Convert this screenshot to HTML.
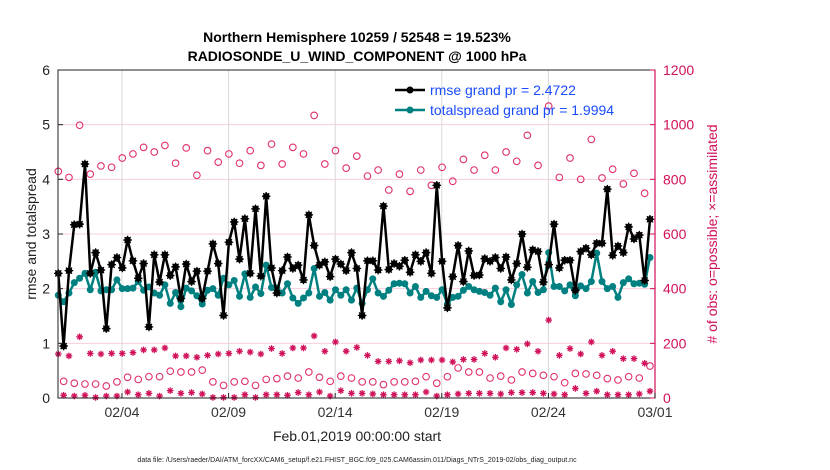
<!DOCTYPE html>
<html><head><meta charset="utf-8"><style>
html,body{margin:0;padding:0;background:#fff;}
svg{display:block;font-family:"Liberation Sans",Arial,sans-serif;}
</style></head><body>
<svg id="chart" width="830" height="470" viewBox="0 0 830 470">
<rect x="0" y="0" width="830" height="470" fill="#fff"/>
<text x="357" y="42" text-anchor="middle" font-size="14" font-weight="bold">Northern Hemisphere 10259 / 52548 = 19.523%</text>
<text x="357" y="61" text-anchor="middle" font-size="14" font-weight="bold">RADIOSONDE_U_WIND_COMPONENT @ 1000 hPa</text>
<g id="grid"></g>
<g id="marks"></g>
<rect x="58" y="70" width="597" height="328" fill="none" stroke="#222" stroke-width="1"/>
<line x1="655" y1="70" x2="655" y2="398" stroke="#d0105a" stroke-width="1.2"/>
<g id="axes"></g>
<text transform="translate(36,234) rotate(-90)" text-anchor="middle" font-size="14" fill="#222">rmse and totalspread</text>
<text transform="translate(717,234) rotate(-90)" text-anchor="middle" font-size="14" fill="#d0105a"># of obs: o=possible; ×=assimilated</text>
<text x="357" y="441" text-anchor="middle" font-size="14" fill="#222">Feb.01,2019 00:00:00 start</text>
<text x="357" y="462" text-anchor="middle" font-size="7" fill="#222">data file: /Users/raeder/DAI/ATM_forcXX/CAM6_setup/f.e21.FHIST_BGC.f09_025.CAM6assim.011/Diags_NTrS_2019-02/obs_diag_output.nc</text>
<g>
<line x1="395" y1="90" x2="425" y2="90" stroke="#000" stroke-width="2.5"/>
<circle cx="410" cy="90" r="3.5" fill="#000"/>
<text x="430" y="95" font-size="14" fill="#1a4cff">rmse grand pr = 2.4722</text>
<line x1="395" y1="110" x2="425" y2="110" stroke="#008080" stroke-width="2.5"/>
<circle cx="410" cy="110" r="3.5" fill="#008080"/>
<text x="430" y="115" font-size="14" fill="#1a4cff">totalspread grand pr = 1.9994</text>
</g>
</svg>
<script>
const rmse=[2.28,0.95,2.33,3.17,3.18,4.28,2.28,2.66,2.34,1.27,2.44,2.57,2.38,2.89,2.51,2.19,2.46,1.30,2.62,2.12,2.62,2.24,2.40,1.82,2.45,2.13,2.32,1.82,2.32,2.82,2.46,1.51,2.85,3.22,2.54,3.28,2.28,3.46,2.23,3.69,2.38,1.92,2.33,2.58,2.37,2.43,2.16,3.35,2.79,2.43,2.49,2.22,2.54,2.45,2.33,2.66,2.37,
1.51,2.51,2.51,2.34,3.51,2.35,2.46,2.41,2.52,2.30,2.62,2.50,2.66,2.28,3.89,2.50,1.65,2.22,2.79,2.13,2.69,2.24,2.25,2.55,2.50,2.57,2.37,2.58,2.16,2.46,3.00,2.39,2.71,2.68,2.12,2.44,3.18,2.38,2.52,2.52,1.97,2.68,2.74,2.62,2.83,2.83,3.82,2.61,2.78,2.66,3.13,2.91,2.98,2.15,3.27];
const spread=[1.88,1.76,1.92,2.11,2.19,2.28,1.98,2.30,1.96,1.98,1.98,2.16,2.00,2.00,2.01,2.13,1.97,2.03,1.92,1.88,2.07,1.73,1.93,1.67,2.01,1.96,1.87,1.72,1.97,2.00,1.88,2.19,2.07,2.15,1.86,2.27,1.84,2.03,1.91,2.43,2.02,2.01,1.92,2.09,1.83,1.73,1.83,1.92,2.37,1.86,1.93,1.79,1.98,1.88,1.98,1.79,2.01,
1.73,1.98,2.18,1.92,1.86,1.97,2.09,2.10,2.09,1.92,2.04,1.84,1.95,1.87,1.84,1.98,1.72,1.84,1.86,1.97,2.04,1.98,1.95,1.93,1.88,2.01,1.76,1.98,1.71,2.07,2.26,1.92,2.13,1.93,1.98,2.66,2.04,2.04,1.96,2.07,1.87,2.05,2.00,2.13,2.65,2.13,2.00,2.04,1.84,2.11,2.18,2.09,2.10,2.08,2.57];
const possible=[829,61,807,54,998,51,819,51,849,44,844,59,878,76,893,68,917,78,900,78,924,98,859,95,915,95,815,102,905,59,863,46,893,59,859,61,905,46,851,68,929,71,856,80,917,73,893,95,1034,76,856,61,905,80,841,73,885,
59,812,59,834,49,761,59,819,59,756,61,834,78,778,54,844,78,793,110,873,95,834,95,888,73,834,80,900,66,866,95,961,90,851,83,1068,78,807,56,878,90,800,88,946,83,805,71,837,66,783,78,822,73,749,117];
const assimilated=[161,10,154,7,224,10,163,2,161,7,163,7,163,22,166,12,176,17,176,7,183,27,154,17,154,20,149,15,156,2,161,2,163,2,171,12,168,2,161,12,181,12,163,10,183,20,183,12,227,22,171,7,205,27,171,17,185,
17,156,15,134,12,134,12,136,12,129,12,139,22,139,7,139,12,132,15,141,17,141,17,163,17,149,15,183,20,178,20,198,20,171,17,285,15,156,12,181,35,161,17,205,25,156,12,171,12,144,12,144,15,127,25];
const yTicks=[0,1,2,3,4,5,6];
const obsTicks=[0,200,400,600,800,1000,1200];
const dateTicks=[3,8,13,18,23,28];
const dateLabels=["02/04","02/09","02/14","02/19","02/24","03/01"];

const NS="http://www.w3.org/2000/svg";
const X0=58,X1=655,Y0=398,Y1=70,DAYS=28;
const xDay=d=>X0+(d/DAYS)*(X1-X0);
const xIdx=i=>xDay(i*0.25)+0.3;
const yL=v=>Y0-(v/6)*(Y0-Y1);
const yR=v=>Y0-(v/1200)*(Y0-Y1);
function mk(tag,attrs,parent){const e=document.createElementNS(NS,tag);for(const k in attrs)e.setAttribute(k,attrs[k]);parent.appendChild(e);return e;}
const grid=document.getElementById('grid'),marks=document.getElementById('marks'),axes=document.getElementById('axes');

yTicks.forEach(v=>{
  if(v>0&&v<6){const l=mk('line',{x1:X0,x2:X1,y1:yL(v),y2:yL(v),stroke:'#f6cfdc','stroke-width':1},grid);
  
  }
  const t=mk('line',{x1:X0,x2:X0+5,y1:yL(v),y2:yL(v),stroke:'#222'},axes);
  
  
  const tx=mk('text',{x:50,y:yL(v)+5,'text-anchor':'end','font-size':14,fill:'#222'},axes);
  tx.textContent=v;
  
  
});
obsTicks.forEach(v=>{
  const t=mk('line',{x1:X1-5,x2:X1,y1:yR(v),y2:yR(v),stroke:'#d0105a'},axes);
  
  
  const tx=mk('text',{x:663,y:yR(v)+5,'font-size':14,fill:'#d0105a'},axes);
  tx.textContent=v;
  
  
});
dateTicks.forEach((d,k)=>{
  const g=mk('line',{x1:xDay(d),x2:xDay(d),y1:Y1,y2:Y0,stroke:'#d8d8d8','stroke-width':1},grid);
  
  
  const t=mk('line',{x1:xDay(d),x2:xDay(d),y1:Y0,y2:Y0-5,stroke:'#222'},axes);
  
  
  const tx=mk('text',{x:xDay(d),y:417,'text-anchor':'middle','font-size':14,fill:'#333'},axes);
  tx.textContent=dateLabels[k];
  
  
});

function star(cx,cy,r,color,parent){
  const g=mk('g',{stroke:color,'stroke-width':1.3},parent);
  for(let a=0;a<4;a++){const th=a*Math.PI/4;mk('line',{x1:cx-r*Math.cos(th),y1:cy-r*Math.sin(th),x2:cx+r*Math.cos(th),y2:cy+r*Math.sin(th)},g);}
  return g;
}
possible.forEach((v,i)=>{
  const c=mk('circle',{cx:xIdx(i),cy:yR(v),r:3.3,fill:'none',stroke:'#e0306a','stroke-width':1.1},marks);
  
  
});
assimilated.forEach((v,i)=>{
  const g=star(xIdx(i),yR(v),3.3,'#d0105a',marks);
  
  
});
function series(vals,color,name,starMark){
  const pts=vals.map((v,i)=>xIdx(i).toFixed(1)+','+yL(v).toFixed(1)).join(' ');
  const p=mk('polyline',{points:pts,fill:'none',stroke:color,'stroke-width':2.5,'stroke-linejoin':'round'},marks);
  
  
  vals.forEach((v,i)=>{
    const c=mk('circle',{cx:xIdx(i),cy:yL(v),r:starMark?3.3:3.5,fill:color},marks);
    
    
    if(starMark){const s=star(xIdx(i),yL(v),4.3,color,marks);
      
      }
  });
}
series(spread,'#008080','totalspread',false);
series(rmse,'#000','rmse',true);
</script>
</body></html>
